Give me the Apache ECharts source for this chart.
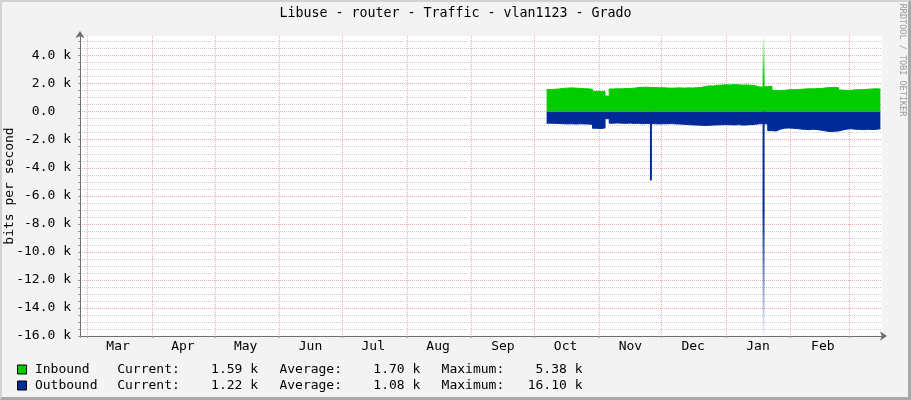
<!DOCTYPE html>
<html>
<head>
<meta charset="utf-8">
<title>Libuse - router - Traffic - vlan1123 - Grado</title>
<script src="https://cdn.jsdelivr.net/npm/echarts@6/dist/echarts.min.js"></script>
<style>
html, body { margin: 0; padding: 0; background: #f3f3f3; }
#wrap { position: relative; width: 911px; height: 400px; }
#main { width: 911px; height: 400px; }
#frame {
    position: absolute; left: 0; top: 0; width: 911px; height: 400px;
    box-sizing: border-box; pointer-events: none;
    border-top: 2px solid #d2d2d2; border-left: 2px solid #d2d2d2;
    border-right: 3px solid #a9a9a9; border-bottom: 3px solid #a9a9a9;
}
</style>
</head>
<body>
<div id="wrap"><div id="main"></div><div id="frame"></div></div>
<script>
var inColor = '#00CC00';
var outColor = '#002A97';
var mono = 'DejaVu Sans Mono';

var seriesNames = ['Inbound', 'Outbound'];

// one sample every 2 days, first on 2018-10-07 (bits per second)
var firstSample = '2018-10-07';
var stepDays = 2;
var inbound = [
    1580, 1600, 1620, 1660, 1680, 1700, 1680, 1660, 1640, 1630,
    1600, 1450, 1440, 1450, 1120, 1620, 1640, 1630, 1650, 1660,
    1680, 1720, 1740, 1750, 1730, 1720, 1700, 1710, 1690, 1680,
    1690, 1700, 1680, 1700, 1690, 1710, 1720, 1800, 1840, 1830,
    1880, 1900, 1920, 1910, 1930, 1920, 1900, 1910, 1890, 1850,
    1760, 1750, 1800, 1820, 1520, 1500, 1520, 1560, 1570, 1580,
    1600, 1620, 1640, 1630, 1650, 1660, 1700, 1720, 1740, 1700,
    1540, 1520, 1530, 1560, 1570, 1580, 1600, 1620, 1630, 1620,
    1590
];
var outbound = [
    820, 830, 840, 860, 870, 860, 880, 860, 870, 880,
    900, 1180, 1200, 1160, 500, 820, 800, 820, 830, 810,
    840, 820, 860, 840, 850, 860, 870, 860, 860, 850,
    870, 880, 900, 920, 940, 950, 960, 980, 970, 950,
    940, 930, 920, 930, 940, 920, 950, 940, 920, 900,
    860, 850, 880, 1350, 1380, 1250, 1180, 1160, 1180, 1200,
    1240, 1260, 1280, 1250, 1280, 1320, 1380, 1420, 1400, 1380,
    1300, 1240, 1220, 1250, 1260, 1280, 1250, 1270, 1260, 1220,
    1220
];

// short peaks
var inPeakDates = ['2019-01-19'];
var inPeaks = [5380];
var outPeakDates = ['2018-11-26', '2019-01-19'];
var outPeaks = [4900, 16100];

var current = [1590, 1220];
var average = [1700, 1080];
var maximum = [5380, 16100];

var monthLabels = ['Mar', 'Apr', 'May', 'Jun', 'Jul', 'Aug', 'Sep', 'Oct', 'Nov', 'Dec', 'Jan', 'Feb'];
var monthLabelDates = ['2018-03-16', '2018-04-16', '2018-05-16', '2018-06-16', '2018-07-16', '2018-08-16',
    '2018-09-16', '2018-10-16', '2018-11-16', '2018-12-16', '2019-01-16', '2019-02-16'];

var yMin = -16000;
var yMax = 5400;

function day(s, plusDays, hours) {
    var p = s.split('-');
    return new Date(+p[0], p[1] - 1, +p[2] + (plusDays || 0), hours || 0).getTime();
}

var xMin = day('2018-02-25', 0, 19);
var xMax = day('2019-03-16', 0, 7);
var dayMs = 86400000;

var sampleTimes = inbound.map(function (v, i) {
    return day(firstSample, i * stepDays);
});
var labelTimes = monthLabelDates.map(function (d) { return day(d); });

// fixed width value column, like rrdtool's %8.2lf %s
function kFmt(v) {
    var s = (v / 1000).toFixed(2) + ' k';
    while (s.length < 10) s = ' ' + s;
    return s;
}

var major = '#f1a9a9';
var minor = '#cfcfcf';

var myChart = echarts.init(document.getElementById('main'));

option = {
    backgroundColor: '#f3f3f3',
    animation: false,
    title: {
        text: 'Libuse - router - Traffic - vlan1123 - Grado',
        left: 'center',
        top: 7,
        padding: 0,
        textStyle: {
            fontFamily: mono,
            fontSize: 13.3,
            fontWeight: 'normal',
            color: '#000'
        }
    },
    graphic: [{
        type: 'text',
        x: 902,
        y: 60,
        rotation: -Math.PI / 2,
        style: {
            text: 'RRDTOOL / TOBI OETIKER',
            fill: '#9a9a9a',
            font: '8.5px "DejaVu Sans Mono"',
            align: 'center',
            verticalAlign: 'middle'
        }
    }],
    legend: {
        data: seriesNames,
        orient: 'vertical',
        left: 17,
        top: 363,
        padding: 0,
        icon: 'rect',
        itemWidth: 9,
        itemHeight: 9,
        itemGap: 3,
        selectedMode: false,
        itemStyle: {
            borderColor: '#000',
            borderWidth: 1
        },
        formatter: function (name) {
            var i = seriesNames.indexOf(name);
            return '{s| }{n|' + name + '}' +
                '{l|Current:}{v|' + kFmt(current[i]) + '}{g| }' +
                '{l|Average:}{v|' + kFmt(average[i]) + '}{g| }' +
                '{l|Maximum:}{v|' + kFmt(maximum[i]) + '}';
        },
        textStyle: {
            fontFamily: mono,
            fontSize: 13,
            color: '#000',
            rich: {
                s: {width: 3.4},
                n: {width: 82.3, fontFamily: mono, fontSize: 13},
                l: {width: 62.6, fontFamily: mono, fontSize: 13},
                v: {width: 79, fontFamily: mono, fontSize: 13},
                g: {width: 20.6}
            }
        }
    },
    grid: {
        left: 80,
        right: 29,
        top: 36,
        bottom: 64,
        show: true,
        backgroundColor: '#fff',
        borderWidth: 0,
        containLabel: false,
        outerBoundsMode: 'none'
    },
    xAxis: [{
        type: 'time',
        min: xMin,
        max: xMax,
        splitNumber: 13,
        minInterval: 28 * dayMs,
        maxInterval: 31 * dayMs,
        axisLine: {
            onZero: false,
            symbol: ['none', 'arrow'],
            symbolSize: [7, 7],
            symbolOffset: [0, 5],
            lineStyle: {color: '#6e6e6e'}
        },
        axisTick: {show: true, length: 2, lineStyle: {color: '#999'}},
        axisLabel: {show: false},
        splitLine: {
            show: true,
            showMaxLine: false,
            lineStyle: {color: major, type: [1, 1], width: 1}
        }
    }, {
        // same time span as a plain number axis, only for the mid-month labels
        type: 'value',
        min: xMin,
        max: xMax,
        position: 'bottom',
        axisLine: {show: false, onZero: false},
        axisTick: {show: false},
        splitLine: {show: false},
        axisLabel: {
            customValues: labelTimes,
            margin: 4,
            fontFamily: mono,
            fontSize: 13,
            color: '#000',
            showMinLabel: true,
            showMaxLabel: true,
            formatter: function (v, idx) {
                var i = labelTimes.indexOf(+v);
                return monthLabels[i >= 0 ? i : idx];
            }
        }
    }],
    yAxis: {
        type: 'value',
        min: yMin,
        max: yMax,
        interval: 500,
        name: 'bits per second',
        nameLocation: 'middle',
        nameRotate: 90,
        nameGap: 64,
        nameMoveOverlap: false,
        nameTruncate: {maxWidth: null},
        nameTextStyle: {fontFamily: mono, fontSize: 13, color: '#000'},
        axisLine: {
            show: true,
            onZero: false,
            symbol: ['none', 'arrow'],
            symbolSize: [7, 7],
            symbolOffset: [0, 5],
            lineStyle: {color: '#6e6e6e'}
        },
        axisTick: {show: true, length: 2, lineStyle: {color: '#999'}},
        axisLabel: {
            fontFamily: mono,
            fontSize: 13,
            color: '#000',
            margin: 9,
            showMaxLabel: false,
            formatter: function (v) {
                if (v % 2000 !== 0) return '';
                return v === 0 ? '0.0  ' : (v / 1000).toFixed(1) + ' k';
            }
        },
        splitLine: {
            show: true,
            showMaxLine: false,
            lineStyle: {color: [major, minor, minor, minor], type: [1, 1], width: 1}
        }
    },
    series: [{
        name: 'Inbound',
        type: 'line',
        step: 'end',
        showSymbol: false,
        xAxisIndex: 0,
        data: sampleTimes.map(function (t, i) { return [t, inbound[i]]; }),
        itemStyle: {color: inColor},
        lineStyle: {color: inColor, width: 1},
        areaStyle: {color: inColor, opacity: 1}
    }, {
        name: 'Outbound',
        type: 'line',
        step: 'end',
        showSymbol: false,
        xAxisIndex: 0,
        data: sampleTimes.map(function (t, i) { return [t, -outbound[i]]; }),
        itemStyle: {color: outColor},
        lineStyle: {color: outColor, width: 1},
        areaStyle: {color: outColor, opacity: 1}
    }, {
        name: 'Inbound peak',
        type: 'bar',
        xAxisIndex: 0,
        barWidth: 2,
        barGap: '-100%',
        data: inPeakDates.map(function (d, i) { return [day(d), inPeaks[i]]; }),
        itemStyle: {
            color: new echarts.graphic.LinearGradient(0, 0, 0, 1, [
                {offset: 0, color: 'rgba(0,204,0,0.05)'},
                {offset: 0.6, color: inColor},
                {offset: 1, color: inColor}
            ])
        }
    }, {
        name: 'Outbound peak',
        type: 'bar',
        xAxisIndex: 0,
        barWidth: 2,
        barGap: '-100%',
        data: outPeakDates.map(function (d, i) {
            var item = {value: [day(d), -outPeaks[i]]};
            // the tall one fades out like in the original
            if (outPeaks[i] > 10000) {
                item.itemStyle = {
                    color: new echarts.graphic.LinearGradient(0, 0, 0, 1, [
                        {offset: 0, color: outColor},
                        {offset: 0.45, color: outColor},
                        {offset: 1, color: 'rgba(0,42,151,0.04)'}
                    ])
                };
            }
            return item;
        }),
        itemStyle: {color: outColor}
    }]
};

myChart.setOption(option);
</script>
</body>
</html>
